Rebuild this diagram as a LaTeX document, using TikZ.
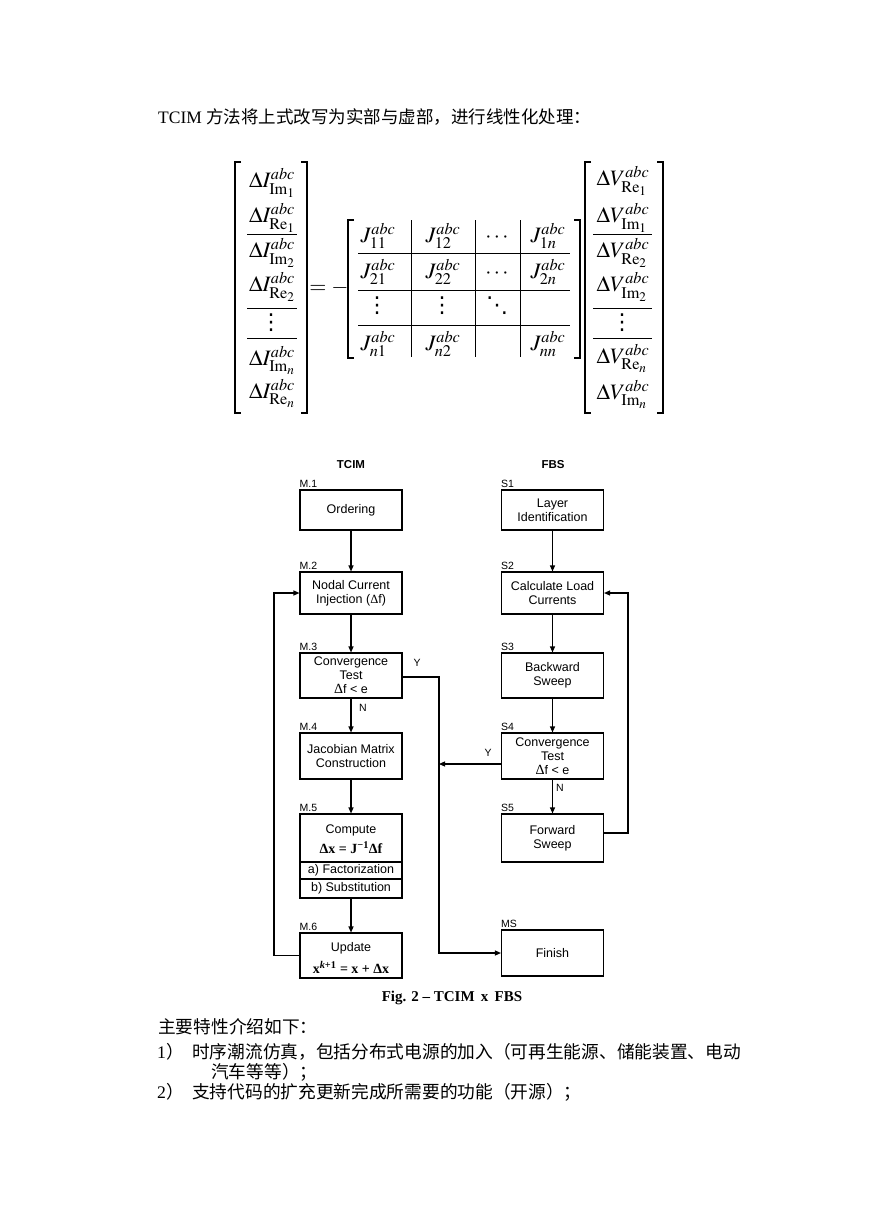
\documentclass[tikz,border=0pt]{standalone}
\usepackage{mathptmx}
\usepackage{fontspec}
\setmainfont{Liberation Serif}
\setsansfont{Liberation Sans}
\newfontfamily\cjk{Noto Sans CJK SC}
\newfontfamily\dvs{DejaVu Sans}
\usetikzlibrary{arrows.meta,calc}
\begin{document}
\begin{tikzpicture}[x=1pt,y=-1pt,
  brk/.style={line width=1.2pt},
  rulel/.style={line width=0.9pt},
  ent/.style={inner sep=0pt, font=\fontsize{22}{24}\selectfont},
  dts/.style={inner sep=0pt, font=\fontsize{22}{22}\selectfont\dvs},
  fbox/.style={draw, line width=1.1pt, minimum width=102pt, inner sep=0pt, align=center, font=\fontsize{12.5}{14}\selectfont\sffamily},
  lbl/.style={inner sep=0pt, font=\fontsize{10.5}{10.5}\selectfont\sffamily, anchor=south west, yshift=2pt},
  arr/.style={line width=1.1pt, -{Triangle[length=6pt,width=5pt]}},
  ln/.style={line width=1.1pt},
  yn/.style={inner sep=0pt, font=\fontsize{10.5}{10.5}\selectfont\sffamily},
  btxt/.style={inner sep=0pt, font=\fontsize{12.5}{14}\selectfont\sffamily, align=center},
  zh/.style={inner sep=0pt, anchor=west, font=\fontsize{17.7}{17.7}\selectfont\cjk}
]
\useasboundingbox[fill=white] (0,0) rectangle (869,1228);

% ---------- top sentence ----------
\node[anchor=west, inner sep=0pt, font=\fontsize{17.5}{17.5}\selectfont] (t0) at (158,117)
  {TCIM {\cjk 方法将上式改写为实部与虚部，进行线性化处理：}};

% ---------- left vector ----------
\draw[brk] (241,162) -- (235,162) -- (235,413) -- (241,413);
\draw[brk] (301,162) -- (307,162) -- (307,413) -- (301,413);
\node[ent] (i1) at (272,183) {$\Delta I^{abc}_{\mathrm{Im}_1}$};
\node[ent] (i2) at (272,218) {$\Delta I^{abc}_{\mathrm{Re}_1}$};
\node[ent] (i3) at (272,253) {$\Delta I^{abc}_{\mathrm{Im}_2}$};
\node[ent] (i4) at (272,287) {$\Delta I^{abc}_{\mathrm{Re}_2}$};
\node[dts] (i5) at (271,323) {⋮};
\node[ent] (i6) at (272,360) {$\Delta I^{abc}_{\mathrm{Im}_n}$};
\node[ent] (i7) at (272,393) {$\Delta I^{abc}_{\mathrm{Re}_n}$};
\draw[rulel] (247,234) -- (297,234);
\draw[rulel] (247,308) -- (297,308);
\draw[rulel] (247,338) -- (297,338);

\node[ent] (eq) at (329,288) {$=-$};

% ---------- Jacobian ----------
\draw[brk] (354,220) -- (348,220) -- (348,358) -- (354,358);
\draw[brk] (574,220) -- (580,220) -- (580,358) -- (574,358);
\foreach \xx in {411,475,520} \draw[rulel] (\xx,220) -- (\xx,357);
\foreach \yy in {253,290,325} \draw[rulel] (358,\yy) -- (570,\yy);
\node[ent] (j11) at (378,236) {$J^{abc}_{11}$};
\node[ent] (j12) at (443,236) {$J^{abc}_{12}$};
\node[ent] (j13) at (497,238) {$\cdots$};
\node[ent] (j14) at (548,236) {$J^{abc}_{1n}$};
\node[ent] (j21) at (378,272) {$J^{abc}_{21}$};
\node[ent] (j22) at (443,272) {$J^{abc}_{22}$};
\node[ent] (j23) at (497,274) {$\cdots$};
\node[ent] (j24) at (548,272) {$J^{abc}_{2n}$};
\node[dts] (j31) at (377,306) {⋮};
\node[dts] (j32) at (442,306) {⋮};
\node[dts] (j33) at (497,306) {⋱};
\node[ent] (j41) at (378,344) {$J^{abc}_{n1}$};
\node[ent] (j42) at (443,344) {$J^{abc}_{n2}$};
\node[ent] (j44) at (548,344) {$J^{abc}_{nn}$};

% ---------- right vector ----------
\draw[brk] (591,162) -- (585,162) -- (585,413) -- (591,413);
\draw[brk] (657,162) -- (663,162) -- (663,413) -- (657,413);
\node[ent] (v1) at (623,181) {$\Delta V^{abc}_{\mathrm{Re}_1}$};
\node[ent] (v2) at (623,218) {$\Delta V^{abc}_{\mathrm{Im}_1}$};
\node[ent] (v3) at (623,253) {$\Delta V^{abc}_{\mathrm{Re}_2}$};
\node[ent] (v4) at (623,287) {$\Delta V^{abc}_{\mathrm{Im}_2}$};
\node[dts] (v5) at (622,323) {⋮};
\node[ent] (v6) at (623,358) {$\Delta V^{abc}_{\mathrm{Re}_n}$};
\node[ent] (v7) at (623,394) {$\Delta V^{abc}_{\mathrm{Im}_n}$};
\draw[rulel] (593,234) -- (652,234);
\draw[rulel] (593,308) -- (652,308);
\draw[rulel] (593,338) -- (652,338);

% ---------- flowchart headings ----------
\node[inner sep=0pt, font=\fontsize{11.5}{11.5}\selectfont\sffamily\bfseries] (hT) at (351,465) {TCIM};
\node[inner sep=0pt, font=\fontsize{11.5}{11.5}\selectfont\sffamily\bfseries] (hF) at (553,465) {FBS};

% ---------- TCIM column ----------
\node[fbox, minimum height=40pt] (M1) at (351,510) {Ordering};
\node[fbox, minimum height=42pt] (M2) at (351,593) {Nodal Current\\Injection ({\rmfamily Δ}f)};
\node[fbox, minimum height=45pt] (M3) at (351,675.5) {Convergence\\Test\\{\rmfamily\fontsize{14}{14}\selectfont Δ}f < e};
\node[fbox, minimum height=46pt] (M4) at (351,756) {Jacobian Matrix\\Construction};
\node[fbox, minimum height=84pt] (M5) at (351,856) {};
\node[fbox, minimum height=45pt] (M6) at (351,955.5) {};

\draw[ln] (M5.west |- 0,862) -- (M5.east |- 0,862);
\draw[ln] (M5.west |- 0,879) -- (M5.east |- 0,879);
\node[btxt] (m5a) at (351,830) {Compute};
\node[inner sep=0pt, font=\fontsize{14}{14}\selectfont\rmfamily\bfseries] (m5b) at (351,848) {Δx = J\textsuperscript{−1}Δf};
\node[btxt] (m5c) at (351,870.5) {a) Factorization};
\node[btxt] (m5d) at (351,888.5) {b) Substitution};
\node[btxt] (m6a) at (351,948) {Update};
\node[inner sep=0pt, font=\fontsize{14}{14}\selectfont\rmfamily\bfseries] (m6b) at (351,967) {x\textsuperscript{\textit{k}+1} = x + Δx};

\node[lbl] (lM1) at (M1.north west) {M.1};
\node[lbl] (lM2) at (M2.north west) {M.2};
\node[lbl] (lM3) at (M3.north west) {M.3};
\node[lbl] (lM4) at (M4.north west) {M.4};
\node[lbl] (lM5) at (M5.north west) {M.5};
\node[lbl] (lM6) at (M6.north west) {M.6};

% ---------- FBS column ----------
\node[fbox, minimum height=40pt] (S1) at (552.5,510) {Layer\\Identification};
\node[fbox, minimum height=42pt] (S2) at (552.5,593) {Calculate Load\\Currents};
\node[fbox, minimum height=45pt] (S3) at (552.5,675.5) {Backward\\Sweep};
\node[fbox, minimum height=46pt] (S4) at (552.5,756) {Convergence\\Test\\{\rmfamily\fontsize{14}{14}\selectfont Δ}f < e};
\node[fbox, minimum height=48pt] (S5) at (552.5,838) {Forward\\Sweep};
\node[fbox, minimum height=46pt] (MS) at (552.5,953) {Finish};

\node[lbl] (lS1) at (S1.north west) {S1};
\node[lbl] (lS2) at (S2.north west) {S2};
\node[lbl] (lS3) at (S3.north west) {S3};
\node[lbl] (lS4) at (S4.north west) {S4};
\node[lbl] (lS5) at (S5.north west) {S5};
\node[lbl] (lMS) at (MS.north west) {MS};

% ---------- connectors ----------
\draw[arr] (M1) -- (M2);
\draw[arr] (M2) -- (M3);
\draw[arr] (M3) -- (M4);
\draw[arr] (M4) -- (M5);
\draw[arr] (M5) -- (M6);
\draw[arr] (S1) -- (S2);
\draw[arr] (S2) -- (S3);
\draw[arr] (S3) -- (S4);
\draw[arr] (S4) -- (S5);

\coordinate (cL) at (274,0);
\coordinate (cR) at (628,0);
\coordinate (cV) at (439,0);
\draw[arr] (M6.west) -- (cL |- M6.west) -- (cL |- M2.west) -- (M2.west);
\draw[arr] ($(S5.east)+(0,-5)$) -- ($(cR |- S5.east)+(0,-5)$) -- (cR |- S2.east) -- (S2.east);
\draw[arr] ($(M3.east)+(0,1.5)$) -- ($(cV |- M3.east)+(0,1.5)$) -- (cV |- MS.west) -- (MS.west);
\coordinate (cY) at ($(cV |- S4.west)+(0,8)$);
\draw[arr] ($(S4.west)+(0,8)$) -- (cY);

\node[yn] (y1) at (417,663) {Y};
\node[yn] (n1) at (363,708) {N};
\node[yn] (y2) at (488,753) {Y};
\node[yn] (n2) at (560,788) {N};

\node[inner sep=0pt, font=\fontsize{15}{15}\selectfont\rmfamily\bfseries] (cap) at (452,998) {Fig. 2 – TCIM\, x\, FBS};

% ---------- bottom text ----------
\node[zh] (b1) at (158,1027) {主要特性介绍如下：};
\node[inner sep=0pt, anchor=west, font=\fontsize{17.7}{17.7}\selectfont] (n1a) at (157,1052) {1{\cjk ）}};
\node[zh] (b2) at (192,1052) {时序潮流仿真，包括分布式电源的加入（可再生能源、储能装置、电动};
\node[zh] (b3) at (211,1072) {汽车等等）；};
\node[inner sep=0pt, anchor=west, font=\fontsize{17.7}{17.7}\selectfont] (n2a) at (157,1092) {2{\cjk ）}};
\node[zh] (b4) at (192,1092) {支持代码的扩充更新完成所需要的功能（开源）；};
\end{tikzpicture}
\end{document}
